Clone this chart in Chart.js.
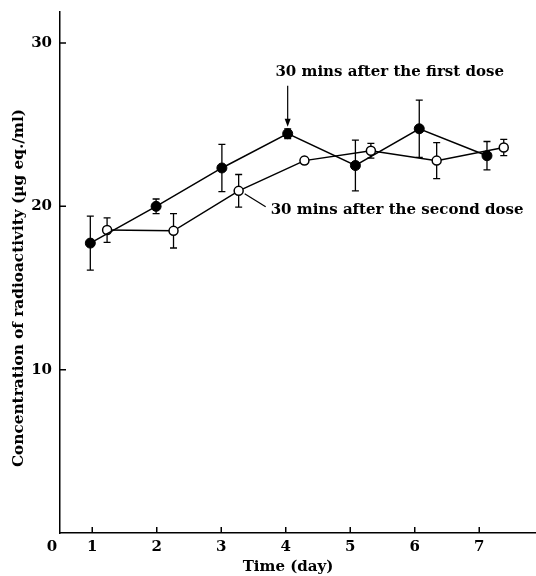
<!DOCTYPE html>
<html>
<head>
<meta charset="utf-8">
<script src="https://cdn.jsdelivr.net/npm/chart.js@4.4.1/dist/chart.umd.min.js"></script>
<style>
  html, body { margin: 0; padding: 0; background: #fff; overflow: hidden; }
  canvas { display: block; }
</style>
</head>
<body>
<canvas id="myChart" width="536" height="576"></canvas>
<script>
// data
const days = [1, 2, 3, 4, 5, 6, 7];
const firstX = [0.97, 1.99, 3.01, 4.03, 5.08, 6.07, 7.12];
const firstMean = [17.75, 20.0, 22.35, 24.45, 22.5, 24.75, 23.1];
const firstErr = [1.65, 0.45, 1.45, 0.3, 1.55, 1.75, 0.87];
const secondX = [1.23, 2.26, 3.27, 4.29, 5.32, 6.34, 7.38];
const secondMean = [18.55, 18.5, 20.95, 22.8, 23.4, 22.8, 23.6];
const secondErr = [0.75, 1.05, 1.0, 0.2, 0.45, 1.1, 0.5];
const yTicks = [10, 20, 30];

const FONT = "'DejaVu Serif', serif";

const ctx = document.getElementById('myChart');

const extras = {
  id: 'extras',
  beforeDatasetsDraw(chart) {
    const c = chart.ctx;
    const xs = chart.scales.x, ys = chart.scales.y;
    c.save();
    c.strokeStyle = '#000';
    c.lineWidth = 1.3;
    const bars = (X, M, E) => {
      X.forEach((x, i) => {
        const px = xs.getPixelForValue(x);
        const top = ys.getPixelForValue(M[i] + E[i]);
        const bot = ys.getPixelForValue(M[i] - E[i]);
        c.beginPath();
        c.moveTo(px, top); c.lineTo(px, bot);
        c.moveTo(px - 3.5, top); c.lineTo(px + 3.5, top);
        c.moveTo(px - 3.5, bot); c.lineTo(px + 3.5, bot);
        c.stroke();
      });
    };
    bars(firstX, firstMean, firstErr);
    bars(secondX, secondMean, secondErr);
    c.restore();
  },
  afterDraw(chart) {
    const c = chart.ctx;
    const xs = chart.scales.x, ys = chart.scales.y;
    const area = chart.chartArea;
    c.save();
    c.strokeStyle = '#000';
    c.fillStyle = '#000';
    c.lineWidth = 1.5;
    // inward ticks
    c.beginPath();
    days.forEach(d => {
      const px = xs.getPixelForValue(d);
      c.moveTo(px, area.bottom); c.lineTo(px, area.bottom - 6);
    });
    yTicks.forEach(v => {
      const py = ys.getPixelForValue(v);
      c.moveTo(area.left, py); c.lineTo(area.left + 6, py);
    });
    c.stroke();

    c.font = 'bold 15px ' + FONT;
    c.textAlign = 'center';
    c.textBaseline = 'middle';
    c.fillText('0', area.left - 8, area.bottom + 14);

    // axis titles
    c.fillText('Time (day)', 288, 567);
    c.save();
    c.translate(19, 288);
    c.rotate(-Math.PI / 2);
    c.font = 'bold 15.3px ' + FONT;
    c.fillText('Concentration of radioactivity (\u00b5g eq./ml)', 0, 0);
    c.restore();

    // first dose annotation
    const p4x = xs.getPixelForValue(firstX[3]);
    const p4y = ys.getPixelForValue(firstMean[3]);
    c.lineWidth = 1.2;
    c.beginPath();
    c.moveTo(p4x, p4y - 48); c.lineTo(p4x, p4y - 12);
    c.stroke();
    c.beginPath();
    c.moveTo(p4x, p4y - 7); c.lineTo(p4x - 3, p4y - 15); c.lineTo(p4x + 3, p4y - 15);
    c.closePath(); c.fill();
    c.fillText('30 mins after the first dose', p4x + 102, p4y - 62);

    // second dose annotation
    const o3x = xs.getPixelForValue(secondX[2]);
    const o3y = ys.getPixelForValue(secondMean[2]);
    c.beginPath();
    c.moveTo(o3x + 6, o3y + 3); c.lineTo(o3x + 27, o3y + 16);
    c.stroke();
    c.textAlign = 'left';
    c.fillText('30 mins after the second dose', o3x + 32, o3y + 19);
    c.restore();
  }
};

new Chart(ctx, {
  type: 'scatter',
  data: {
    datasets: [{
      label: '30 mins after the first dose',
      data: firstX.map((x, i) => ({ x: x, y: firstMean[i] })),
      showLine: true,
      borderColor: '#000',
      borderWidth: 1.5,
      pointRadius: 5,
      pointBackgroundColor: '#000',
      pointBorderColor: '#000',
      pointBorderWidth: 1
    }, {
      label: '30 mins after the second dose',
      data: secondX.map((x, i) => ({ x: x, y: secondMean[i] })),
      showLine: true,
      borderColor: '#000',
      borderWidth: 1.5,
      pointRadius: 4.5,
      pointBackgroundColor: '#fff',
      pointBorderColor: '#000',
      pointBorderWidth: 1.5
    }]
  },
  options: {
    responsive: false,
    animation: false,
    devicePixelRatio: 1,
    layout: { autoPadding: false, padding: { top: 12, right: 0, left: 0, bottom: 0 } },
    plugins: { legend: { display: false }, tooltip: { enabled: false } },
    scales: {
      x: {
        type: 'linear',
        min: 0.5,
        max: 7.88,
        afterBuildTicks: s => { s.ticks = days.map(v => ({ value: v })); },
        afterFit: s => { s.height = 43; s.paddingLeft = 0; s.paddingRight = 0; },
        grid: { display: false, drawTicks: false },
        border: { color: '#000', width: 1.5 },
        ticks: { color: '#000', padding: 5, font: { family: FONT, size: 15, weight: 'bold' } }
      },
      y: {
        min: 0,
        max: 31.9,
        afterBuildTicks: s => { s.ticks = yTicks.map(v => ({ value: v })); },
        afterFit: s => { s.width = 60; s.paddingTop = 0; s.paddingBottom = 0; },
        grid: { display: false, drawTicks: false },
        border: { color: '#000', width: 1.5 },
        ticks: { color: '#000', padding: 8, font: { family: FONT, size: 15, weight: 'bold' } }
      }
    }
  },
  plugins: [extras]
});
</script>
</body>
</html>
